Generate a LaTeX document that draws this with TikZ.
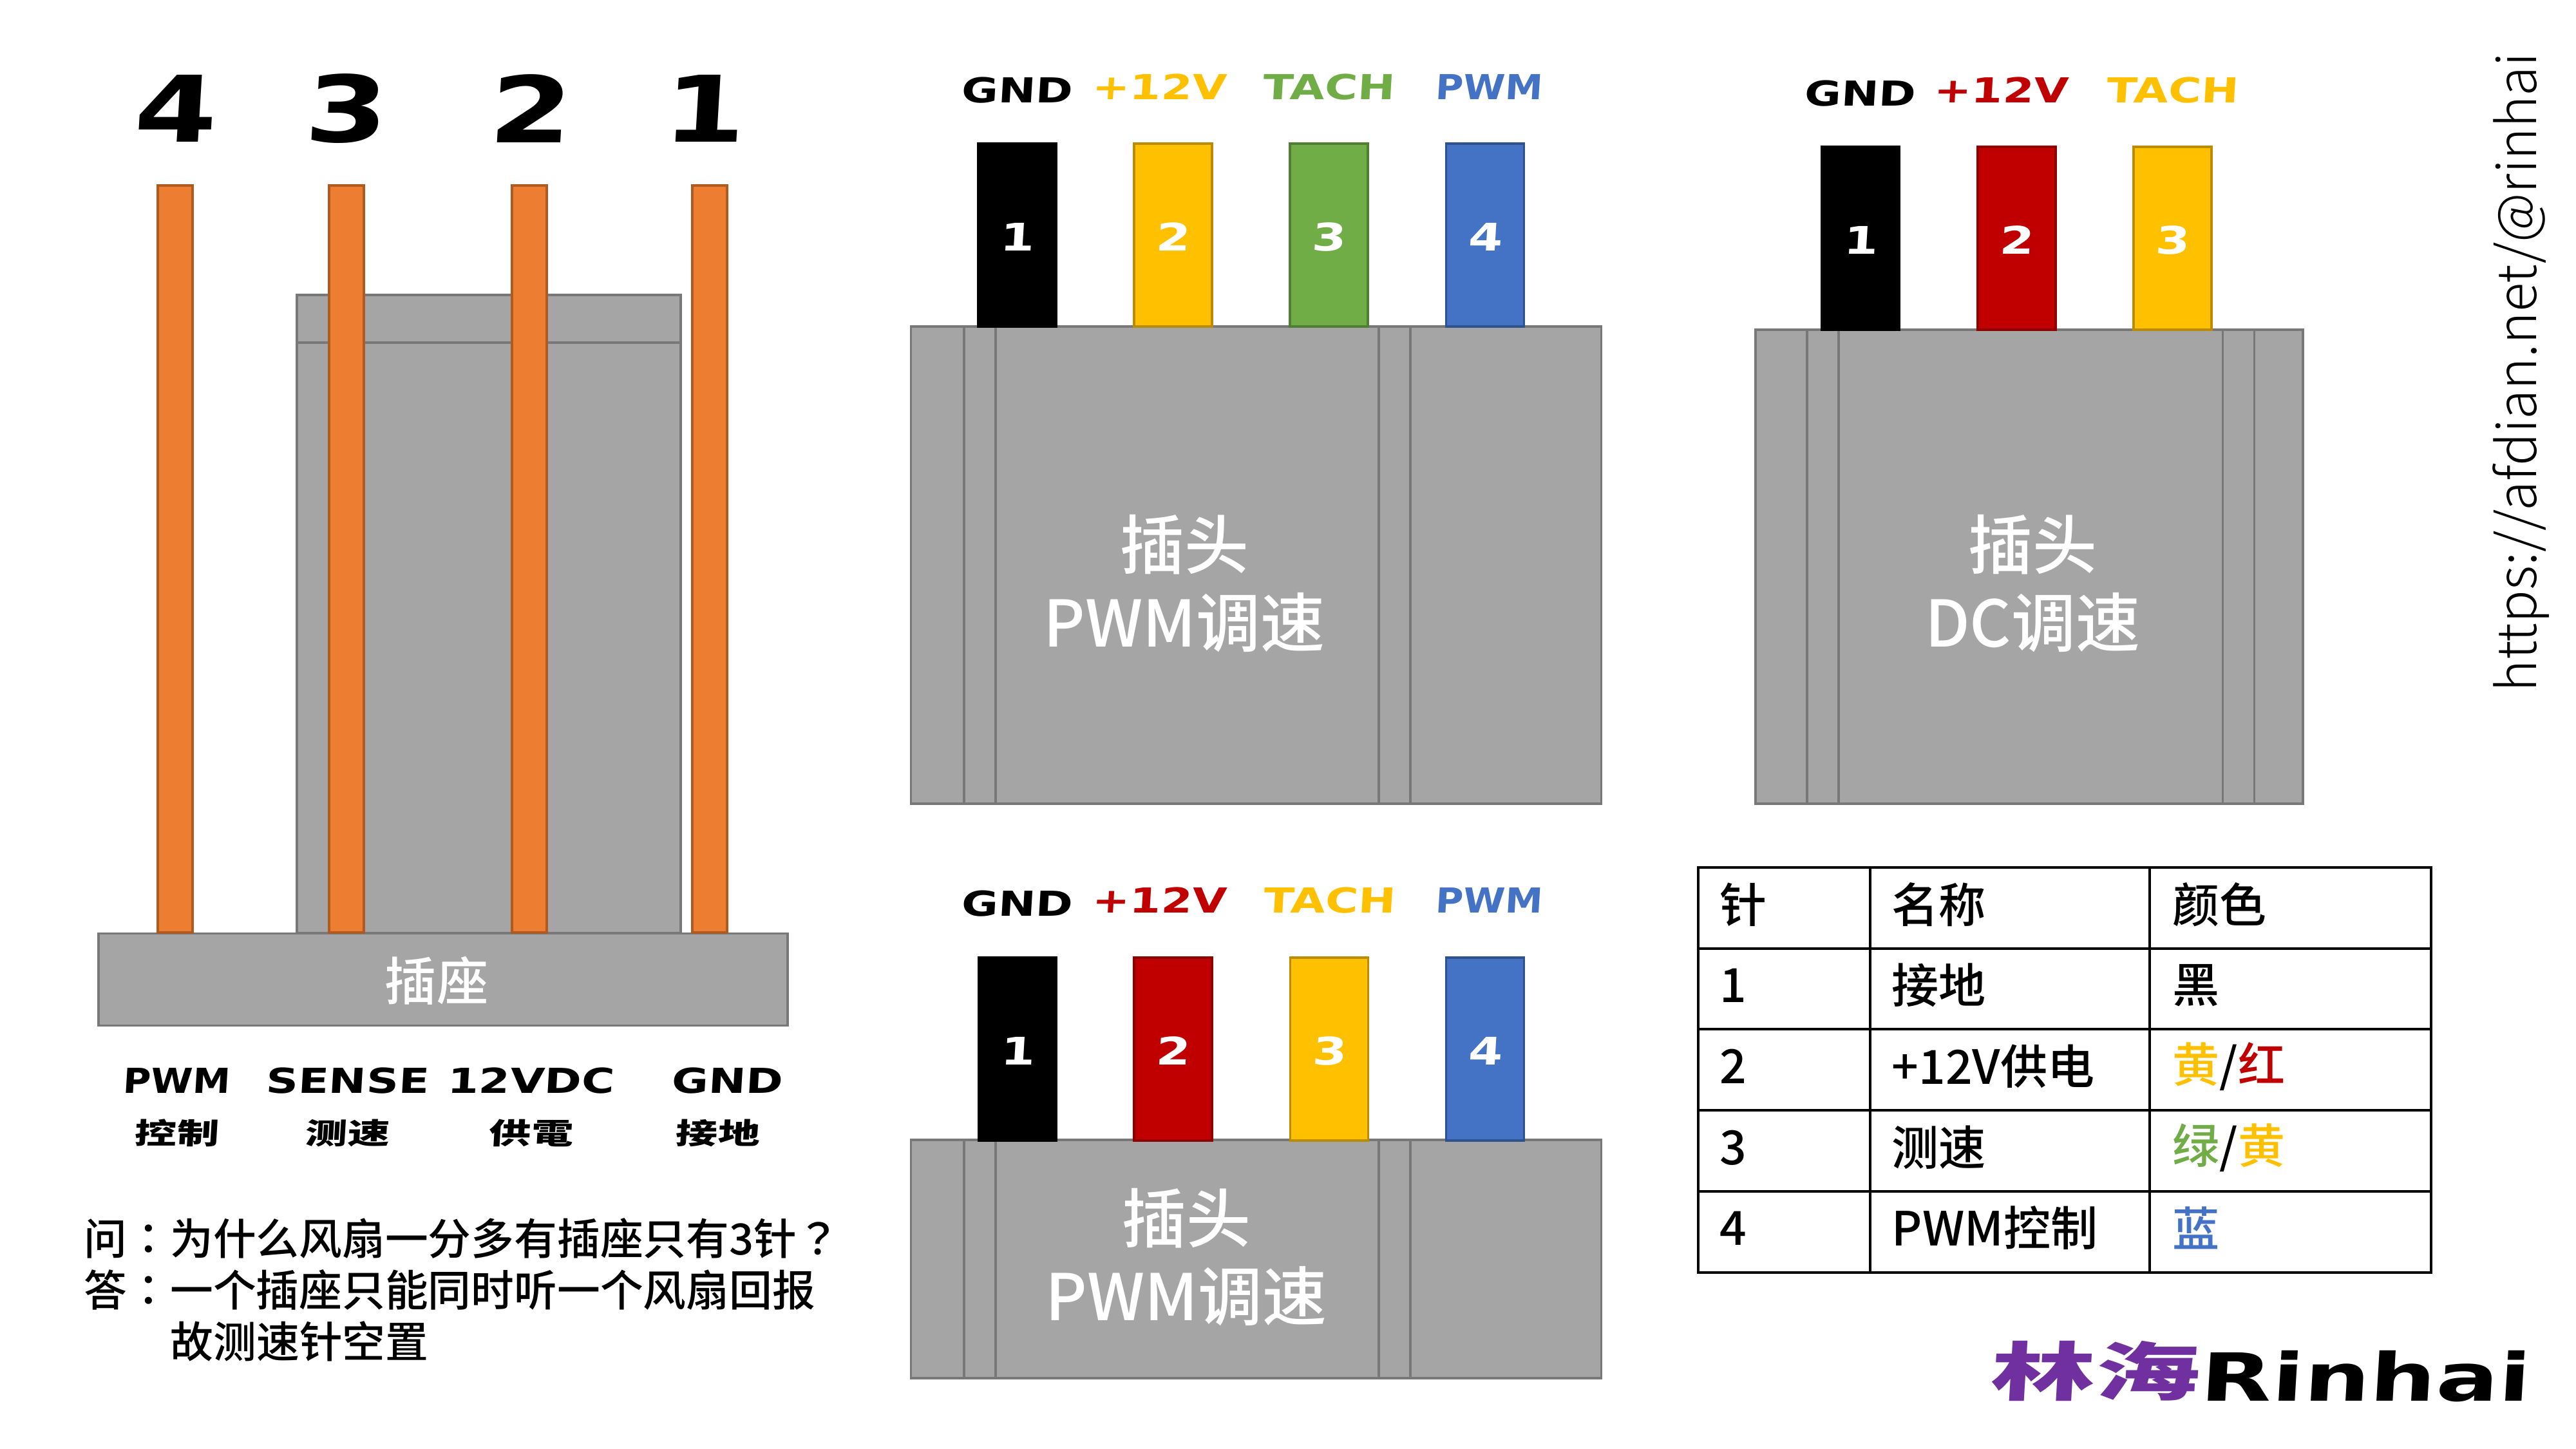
\documentclass[tikz,border=0pt]{standalone}
\usepackage{xcolor}
\usepackage{fontspec}
\usetikzlibrary{positioning}
\setmainfont{Noto Sans CJK SC Medium}
\newfontfamily\cjkpunct{Noto Sans CJK TC Medium}
\newfontfamily\linkfont{Noto Sans CJK SC Light}
\newfontfamily\techfont[FakeSlant=0.06,FakeStretch=1.1]{DejaVu Sans}
\newfontfamily\digitfont[FakeSlant=0.06,FakeStretch=1.3]{DejaVu Sans}
\newfontfamily\logofont[FakeSlant=0.06,FakeStretch=1.4]{DejaVu Sans}
\newfontfamily\heavyfont[FakeSlant=0.06,FakeStretch=1.45]{Noto Sans CJK SC Black}
\newfontfamily\logocjk[FakeSlant=0.06,FakeStretch=1.65]{Noto Sans CJK SC Black}
\definecolor{PinOrange}{HTML}{ED7D31}
\definecolor{PinOrangeDark}{HTML}{AE5A21}
\definecolor{BodyGray}{HTML}{A5A5A5}
\definecolor{BodyGrayDark}{HTML}{787878}
\definecolor{WireYellow}{HTML}{FFC000}
\definecolor{WireYellowDark}{HTML}{BC8C00}
\definecolor{WireGreen}{HTML}{70AD47}
\definecolor{WireGreenDark}{HTML}{507E32}
\definecolor{WireBlue}{HTML}{4472C4}
\definecolor{WireBlueDark}{HTML}{2F528F}
\definecolor{WireRed}{HTML}{C00000}
\definecolor{WireRedDark}{HTML}{8F0000}
\definecolor{LogoPurple}{HTML}{7030A0}

\begin{document}
\begin{tikzpicture}[
    y=-1cm,
    body/.style={draw=BodyGrayDark, fill=BodyGray, line width=1.1pt, inner sep=0pt},
    rib/.style={body, minimum width=0.49cm},
    header/.style={inner sep=0pt, text=white, font=\fontsize{28.4pt}{34.5pt}\selectfont, align=center},
    socketpin/.style={draw=PinOrangeDark, fill=PinOrange, line width=1.1pt, inner sep=0pt, minimum width=0.54cm, minimum height=11.6cm},
    wire/.style={line width=1.1pt, inner sep=0pt, minimum width=1.21cm, minimum height=2.84cm, text height=0.5cm, text=white, font=\digitfont\bfseries\fontsize{16.8pt}{20pt}\selectfont},
    wireblack/.style={wire, draw=black, fill=black},
    wireyellow/.style={wire, draw=WireYellowDark, fill=WireYellow},
    wiregreen/.style={wire, draw=WireGreenDark, fill=WireGreen},
    wireblue/.style={wire, draw=WireBlueDark, fill=WireBlue},
    wirered/.style={wire, draw=WireRedDark, fill=WireRed},
    bignum/.style={inner sep=0pt, font=\digitfont\bfseries\fontsize{40.6pt}{48pt}\selectfont},
    tag/.style={inner sep=0pt, font=\digitfont\bfseries\fontsize{15.2pt}{18pt}\selectfont},
    tagpwm/.style={inner sep=0pt, font=\techfont\bfseries\fontsize{15.2pt}{18pt}\selectfont},
    subtag/.style={inner sep=0pt, font=\heavyfont\fontsize{12.8pt}{15pt}\selectfont},
    note/.style={inner sep=0pt, anchor=west, font=\fontsize{19pt}{23pt}\selectfont},
    cell/.style={inner sep=0pt, anchor=west, font=\fontsize{20.8pt}{25pt}\selectfont},
    grid/.style={draw=black, line width=1.25pt}
]
% Socket: housing, base, pins
\node[body, minimum width=5.96cm, minimum height=9.9cm] (housing) at (7.59,9.535) {};
\node[body, minimum width=5.96cm, minimum height=0.74cm] (housingtop) at (7.59,4.95) {};
\node[body, minimum width=10.7cm, minimum height=1.43cm] (base) at (6.88,15.21) {};
\node[header, font=\fontsize{22.8pt}{26pt}\selectfont] (basetext) at (6.78,15.23) {插座};
\node[socketpin] (p4) at (2.72,8.68) {};
\node[socketpin] (p3) at (5.38,8.68) {};
\node[socketpin] (p2) at (8.22,8.68) {};
\node[socketpin] (p1) at (11.02,8.68) {};
\node[bignum] (n4) at (2.71,1.69) {4};
\node[bignum] (n3) at (5.36,1.69) {3};
\node[bignum] (n2) at (8.22,1.69) {2};
\node[bignum] (n1) at (10.92,1.69) {1};

% Socket labels
\node[tagpwm] (lpwm) at (2.74,16.78) {PWM};
\node[tag] (lsense) at (5.39,16.78) {SENSE};
\node[tag] (lvdc) at (8.24,16.78) {12VDC};
\node[tag] (lgnd) at (11.29,16.78) {GND};
\node[subtag] (cpwm) at (2.74,17.59) {控制};
\node[subtag] (csense) at (5.39,17.59) {测速};
\node[subtag] (cvdc) at (8.24,17.59) {供電};
\node[subtag] (cgnd) at (11.14,17.59) {接地};

% Question and answer
\node[note] (q1) at (1.30,19.23) {问{\cjkpunct ：}为什么风扇一分多有插座只有3针{\cjkpunct ？}};
\node[note] (q2) at (1.30,20.03) {答{\cjkpunct ：}一个插座只能同时听一个风扇回报};
\node[note] (q3) at (2.64,20.83) {故测速针空置};

% Plug, PWM speed control, top
\node[body, minimum width=10.72cm, minimum height=7.41cm] (plugA) at (19.505,8.775) {};
\node[rib, minimum height=7.41cm] (ribA1) at (15.215,8.775) {};
\node[rib, minimum height=7.41cm] (ribA2) at (21.655,8.775) {};
\node[header] (plugAtext) at (18.39,9.06) {插头\\PWM调速};
\node[wireblack] (a1) at (15.795,3.65) {1};
\node[wireyellow] (a2) at (18.215,3.65) {2};
\node[wiregreen] (a3) at (20.635,3.65) {3};
\node[wireblue] (a4) at (23.06,3.65) {4};
\node[tag] (aGnd) at (15.79,1.40) {GND};
\node[tag, text=WireYellow] (aV) at (18.00,1.35) {+12V};
\node[tag, text=WireGreen] (aTach) at (20.63,1.35) {TACH};
\node[tagpwm, text=WireBlue] (aPwm) at (23.12,1.35) {PWM};

% Plug, DC speed control
\node[body, minimum width=8.5cm, minimum height=7.36cm] (plugB) at (31.51,8.80) {};
\node[rib, minimum height=7.36cm] (ribB1) at (28.305,8.80) {};
\node[rib, minimum height=7.36cm] (ribB2) at (34.76,8.80) {};
\node[header] (plugBtext) at (31.56,9.06) {插头\\DC调速};
\node[wireblack] (b1) at (28.89,3.70) {1};
\node[wirered] (b2) at (31.315,3.70) {2};
\node[wireyellow] (b3) at (33.735,3.70) {3};
\node[tag] (bGnd) at (28.88,1.45) {GND};
\node[tag, text=WireRed] (bV) at (31.07,1.40) {+12V};
\node[tag, text=WireYellow] (bTach) at (33.73,1.40) {TACH};

% Plug, PWM speed control, bottom
\node[body, minimum width=10.72cm, minimum height=3.7cm] (plugC) at (19.505,19.55) {};
\node[rib, minimum height=3.7cm] (ribC1) at (15.215,19.55) {};
\node[rib, minimum height=3.7cm] (ribC2) at (21.655,19.55) {};
\node[header] (plugCtext) at (18.42,19.52) {插头\\PWM调速};
\node[wireblack] (c1) at (15.80,16.29) {1};
\node[wirered] (c2) at (18.215,16.29) {2};
\node[wireyellow] (c3) at (20.64,16.29) {3};
\node[wireblue] (c4) at (23.06,16.29) {4};
\node[tag] (cGnd) at (15.79,14.03) {GND};
\node[tag, text=WireRed] (cV) at (18.00,13.98) {+12V};
\node[tag, text=WireYellow] (cTach) at (20.64,13.98) {TACH};
\node[tagpwm, text=WireBlue] (cPwm) at (23.12,13.98) {PWM};

% Pin table
\draw[grid] (26.37,13.47) rectangle (37.75,19.76);
\draw[grid] (29.04,13.47) -- (29.04,19.76);
\draw[grid] (33.38,13.47) -- (33.38,19.76);
\draw[grid] (26.37,14.73) -- (37.75,14.73);
\draw[grid] (26.37,15.98) -- (37.75,15.98);
\draw[grid] (26.37,17.24) -- (37.75,17.24);
\draw[grid] (26.37,18.50) -- (37.75,18.50);
% Row 1 (header)
\node[cell] (t01) at (26.70,14.05) {针};
\node[cell] (t02) at (29.37,14.05) {名称};
\node[cell] (t03) at (33.73,14.05) {颜色};
% Row 2
\node[cell] (t11) at (26.70,15.30) {1};
\node[cell] (t12) at (29.37,15.30) {接地};
\node[cell] (t13) at (33.73,15.30) {黑};
% Row 3
\node[cell] (t21) at (26.70,16.56) {2};
\node[cell] (t22) at (29.37,16.56) {+12V供电};
\node[cell] (t23) at (33.73,16.56) {\textcolor{WireYellow}{黄}/\textcolor{WireRed}{红}};
% Row 4
\node[cell] (t31) at (26.70,17.82) {3};
\node[cell] (t32) at (29.37,17.82) {测速};
\node[cell] (t33) at (33.73,17.82) {\textcolor{WireGreen}{绿}/\textcolor{WireYellow}{黄}};
% Row 5
\node[cell] (t41) at (26.70,19.07) {4};
\node[cell] (t42) at (29.37,19.07) {PWM控制};
\node[cell] (t43) at (33.73,19.07) {\textcolor{WireBlue}{蓝}};

% Link and logo
\node[rotate=90, anchor=base, inner sep=0pt, font=\linkfont\fontsize{23.9pt}{27pt}\selectfont] (link) at (39.38,5.78) {https://afdian.net/@rinhai};
\node[inner sep=0pt, text=LogoPurple, font=\logocjk\fontsize{28pt}{32pt}\selectfont] (logoCn) at (32.52,21.29) {林海};
\node[inner sep=0pt, font=\logofont\bfseries\fontsize{29.3pt}{34pt}\selectfont] (logoEn) at (36.72,21.37) {Rinhai};
\path[use as bounding box] (0,0) rectangle (40,22.5);
\end{tikzpicture}
\end{document}
